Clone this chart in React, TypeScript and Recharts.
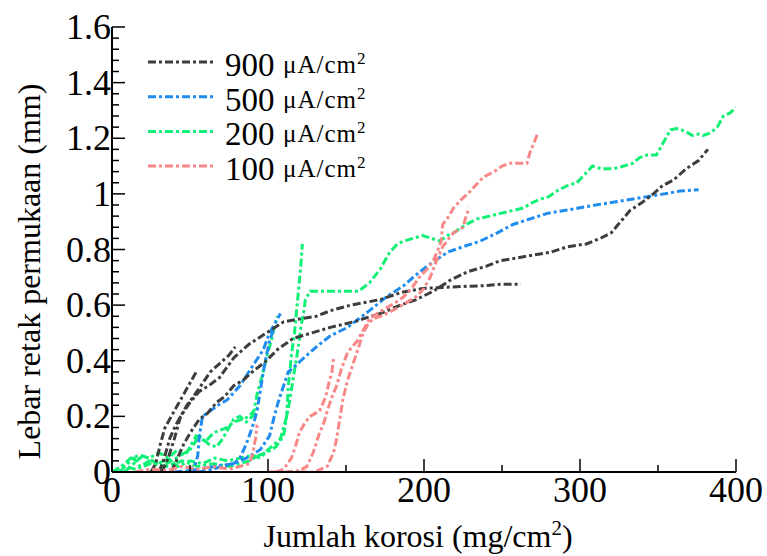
import { LineChart, Line, XAxis, YAxis } from "recharts";

// [x = jumlah korosi (mg/cm2), y = lebar retak (mm)] per specimen
const black1 = [[25, 0], [28, 0.03], [31, 0.1], [34, 0.16], [38, 0.2], [42, 0.24], [46, 0.28], [50, 0.32], [54, 0.36]];
const black2 = [[30, 0], [33, 0.04], [37, 0.12], [41, 0.17], [44, 0.2], [48, 0.24], [52, 0.27], [57, 0.31], [63, 0.36], [69, 0.39], [75, 0.42], [79, 0.45]];
const black3 = [[32, 0], [36, 0.05], [40, 0.12], [44, 0.2], [50, 0.25], [56, 0.29], [62, 0.31], [69, 0.34], [78, 0.41], [88, 0.46], [99, 0.5], [110, 0.54], [120, 0.55], [131, 0.56], [140, 0.58], [153, 0.6], [172, 0.62], [185, 0.645], [199, 0.66], [217, 0.665], [238, 0.67], [250, 0.675], [262, 0.675]];
const black4 = [[38, 0], [42, 0.05], [46, 0.1], [50, 0.14], [56, 0.19], [61, 0.21], [67, 0.25], [72, 0.27], [78, 0.31], [84, 0.33], [90, 0.36], [99, 0.4], [106, 0.44], [116, 0.48], [128, 0.5], [140, 0.52], [155, 0.54], [172, 0.57], [185, 0.6], [195, 0.62], [206, 0.65], [217, 0.69], [228, 0.72], [240, 0.74], [249, 0.76], [260, 0.77], [270, 0.78], [281, 0.79], [292, 0.81], [304, 0.82], [313, 0.84], [320, 0.86], [326, 0.9], [332, 0.94], [340, 0.97], [347, 1.0], [353, 1.03], [360, 1.05], [368, 1.09], [376, 1.12], [382, 1.16]];

const blue1 = [[40, 0], [50, 0.005], [56, 0.01], [66, 0.02], [78, 0.03], [86, 0.05], [95, 0.08], [101, 0.13], [104, 0.2], [107, 0.26], [110, 0.31], [113, 0.36], [121, 0.4], [131, 0.45], [140, 0.49], [151, 0.52], [165, 0.58], [176, 0.63], [187, 0.67], [193, 0.7], [202, 0.74], [215, 0.79], [225, 0.81], [236, 0.83], [247, 0.86], [257, 0.89], [268, 0.91], [279, 0.93], [290, 0.94], [300, 0.95], [310, 0.96], [321, 0.97], [332, 0.98], [343, 0.99], [354, 1.0], [364, 1.01], [376, 1.015]];
const blue2 = [[48, 0], [53, 0.02], [55, 0.06], [56, 0.13], [58, 0.2], [63, 0.22], [68, 0.24], [74, 0.26], [82, 0.31], [90, 0.38], [97, 0.44], [101, 0.5], [105, 0.54], [108, 0.57]];
const blue3 = [[55, 0], [62, 0.005], [70, 0.02], [78, 0.03], [82, 0.05], [86, 0.1], [88, 0.13], [91, 0.18], [93, 0.22], [95, 0.29], [97, 0.36], [99, 0.42], [101, 0.47], [104, 0.52]];

const green1 = [[5, 0], [10, 0.03], [14, 0.05], [18, 0.02], [24, 0.04], [30, 0.03], [36, 0.05], [42, 0.02], [50, 0.04], [58, 0.03], [66, 0.05], [74, 0.04], [82, 0.05], [90, 0.06], [95, 0.05], [100, 0.08], [104, 0.1], [108, 0.12], [110, 0.16], [112, 0.2], [114, 0.26], [116, 0.33], [118, 0.4], [120, 0.47], [121, 0.52], [123, 0.58], [124, 0.62], [127, 0.65], [135, 0.65], [145, 0.65], [158, 0.65], [165, 0.68], [172, 0.73], [178, 0.79], [183, 0.82], [187, 0.83], [193, 0.84], [199, 0.85], [205, 0.84], [210, 0.83], [215, 0.85], [219, 0.86], [227, 0.89], [234, 0.91], [242, 0.92], [249, 0.93], [257, 0.94], [264, 0.95], [270, 0.97], [274, 0.98], [280, 0.99], [285, 1.01], [292, 1.03], [298, 1.04], [303, 1.07], [308, 1.1], [314, 1.09], [321, 1.09], [328, 1.1], [334, 1.11], [338, 1.13], [343, 1.14], [349, 1.14], [353, 1.18], [358, 1.23], [362, 1.235], [365, 1.23], [369, 1.22], [372, 1.21], [376, 1.215], [379, 1.21], [384, 1.22], [388, 1.24], [392, 1.28], [396, 1.29], [400, 1.31]];
const green2 = [[0, 0], [8, 0.02], [15, 0.01], [25, 0.03], [35, 0.02], [45, 0.04], [55, 0.02], [65, 0.03], [75, 0.02], [82, 0.03], [88, 0.04], [94, 0.06], [99, 0.07], [105, 0.09], [110, 0.13], [112, 0.2], [113, 0.31], [114, 0.36], [115, 0.42], [117, 0.5], [118, 0.56], [119, 0.62], [120, 0.68], [121, 0.74], [122, 0.82]];
const green3 = [[0, 0], [6, 0.02], [12, 0.05], [18, 0.06], [24, 0.05], [30, 0.07], [36, 0.05], [42, 0.08], [48, 0.07], [54, 0.13], [60, 0.11], [65, 0.14], [69, 0.15], [74, 0.16], [78, 0.18], [84, 0.19], [88, 0.2], [91, 0.22], [93, 0.28], [96, 0.34], [99, 0.41], [102, 0.47], [104, 0.52], [106, 0.56]];
const green4 = [[8, 0], [14, 0.03], [20, 0.06], [26, 0.04], [32, 0.02], [38, 0.04], [44, 0.06], [50, 0.08], [56, 0.13], [62, 0.1], [67, 0.09], [71, 0.12], [74, 0.15], [78, 0.19], [82, 0.2], [86, 0.18], [90, 0.2], [94, 0.24]];

const red1 = [[105, 0], [110, 0.01], [115, 0.05], [118, 0.1], [120, 0.14], [124, 0.18], [127, 0.2], [130, 0.21], [133, 0.22], [137, 0.27], [139, 0.32], [141, 0.36], [142, 0.41]];
const red2 = [[100, 0], [110, 0], [120, 0.005], [125, 0.02], [129, 0.07], [133, 0.14], [136, 0.18], [138, 0.22], [141, 0.27], [144, 0.31], [147, 0.37], [151, 0.43], [157, 0.47], [161, 0.51], [165, 0.55], [170, 0.57], [176, 0.59], [182, 0.61], [187, 0.63], [192, 0.66], [197, 0.7], [202, 0.73], [206, 0.76], [209, 0.8], [211, 0.83], [212, 0.89], [216, 0.92], [219, 0.95], [224, 0.98], [228, 1.0], [233, 1.03], [238, 1.06], [245, 1.08], [250, 1.1], [255, 1.11], [262, 1.11], [266, 1.11], [268, 1.15], [271, 1.19], [273, 1.22]];
const red3 = [[120, 0], [130, 0], [138, 0.02], [142, 0.07], [144, 0.12], [146, 0.19], [148, 0.26], [151, 0.33], [154, 0.38], [157, 0.43], [161, 0.5], [164, 0.53], [167, 0.55], [172, 0.56], [176, 0.57], [183, 0.59], [189, 0.61], [195, 0.63], [200, 0.66], [204, 0.7], [208, 0.76], [212, 0.81], [216, 0.84], [219, 0.86], [222, 0.87], [225, 0.88], [227, 0.92], [229, 0.95]];
const red4 = [[15, 0], [25, 0.01], [35, 0.005], [45, 0.02], [55, 0.01], [65, 0.02], [75, 0.01], [82, 0.02], [88, 0.03], [90, 0.06], [92, 0.12], [93, 0.17]];

const X_MAJOR = [0, 100, 200, 300, 400];
const Y_MAJOR = [0, 0.2, 0.4, 0.6, 0.8, 1, 1.2, 1.4, 1.6];

const GROUPS = [
  { label: "900", color: "#3d3d3d", specimens: [black1, black2, black3, black4] },
  { label: "500", color: "#1f8cf0", specimens: [blue1, blue2, blue3] },
  { label: "200", color: "#0ff074", specimens: [green1, green2, green3, green4] },
  { label: "100", color: "#f88888", specimens: [red1, red2, red3, red4] },
];
// drawing order (green under, red on top)
const DRAW_ORDER = ["200", "500", "900", "100"];

const FONT = "'Liberation Serif', 'Times New Roman', serif";
const DASH = "8 3 3 3";

const W = 767;
const H = 556;
const MARGIN = { top: 27, right: 31, bottom: 0, left: 0 };
const Y_AXIS_W = 112;
const X_AXIS_H = 84;

// minor ticks between the majors
const xTicks = X_MAJOR.flatMap((v, i) => (i < X_MAJOR.length - 1 ? [v, v + 50] : [v]));
const yTicks = Y_MAJOR.flatMap((v, i) =>
  i < Y_MAJOR.length - 1 ? [0, 1, 2, 3, 4].map((k) => Math.round((v + k * 0.04) * 100) / 100) : [v]
);
const isMajorX = (v: number) => v % 100 === 0;
const isMajorY = (v: number) => Math.round(v * 100) % 20 === 0;

const toPts = (arr: number[][]) => arr.map(([x, y]) => ({ x, y }));

function BottomTick(props: any) {
  const { x, y, payload } = props;
  const major = isMajorX(payload.value);
  return (
    <g>
      <line x1={x} x2={x} y1={y} y2={y - (major ? 13 : 7)} stroke="#000" strokeWidth={1.5} />
      {major && (
        <text x={x} y={y + 30} textAnchor="middle" fontSize={36} fontFamily={FONT} fill="#000">
          {payload.value}
        </text>
      )}
    </g>
  );
}

function TopTick(props: any) {
  const { x, y, payload } = props;
  const major = isMajorX(payload.value);
  return <line x1={x} x2={x} y1={y} y2={y + (major ? 13 : 7)} stroke="#000" strokeWidth={1.5} />;
}

function LeftTick(props: any) {
  const { x, y, payload } = props;
  const major = isMajorY(payload.value);
  return (
    <g>
      <line x1={x} x2={x + (major ? 13 : 7)} y1={y} y2={y} stroke="#000" strokeWidth={1.5} />
      {major && (
        <text x={x - 1} y={y + 12} textAnchor="end" fontSize={36} fontFamily={FONT} fill="#000">
          {String(payload.value)}
        </text>
      )}
    </g>
  );
}

function RightTick(props: any) {
  const { x, y, payload } = props;
  const major = isMajorY(payload.value);
  return <line x1={x} x2={x - (major ? 13 : 7)} y1={y} y2={y} stroke="#000" strokeWidth={1.5} />;
}

// axis titles placed from the chart layout constants
function YTitle() {
  const plotH = H - MARGIN.top - X_AXIS_H;
  const cx = 29;
  const cy = MARGIN.top + plotH / 2 + 22;
  return (
    <text
      transform={`translate(${cx},${cy}) rotate(-90)`}
      textAnchor="middle"
      dominantBaseline="central"
      fontSize={32}
      fontFamily={FONT}
      fill="#000"
    >
      Lebar retak permukaan (mm)
    </text>
  );
}

function XTitle() {
  const plotW = W - MARGIN.right - Y_AXIS_W;
  return (
    <text x={Y_AXIS_W + plotW / 2 - 6} y={H - 9} textAnchor="middle" fontSize={32} fontFamily={FONT} fill="#000">
      Jumlah korosi (mg/cm<tspan dy={-12} fontSize={21}>2</tspan>
      <tspan dy={12}>)</tspan>
    </text>
  );
}

export default function App() {
  const ordered = DRAW_ORDER.map((l) => GROUPS.find((g) => g.label === l)!);
  const axisLine = { stroke: "#000", strokeWidth: 2 };

  return (
    <div style={{ position: "absolute", left: 0, top: 0, width: W, height: H, background: "#fff" }}>
      <LineChart width={W} height={H} margin={MARGIN}>
        <XAxis
          dataKey="x"
          type="number"
          domain={[0, 400]}
          ticks={xTicks}
          interval={0}
          allowDataOverflow
          height={X_AXIS_H}
          axisLine={axisLine}
          tickLine={false}
          tickSize={0}
          tickMargin={0}
          tick={<BottomTick />}
        />
        <XAxis
          xAxisId="top"
          orientation="top"
          type="number"
          domain={[0, 400]}
          ticks={xTicks}
          interval={0}
          height={0}
          axisLine={axisLine}
          tickLine={false}
          tickSize={0}
          tickMargin={0}
          tick={<TopTick />}
        />
        <YAxis
          dataKey="y"
          type="number"
          domain={[0, 1.6]}
          ticks={yTicks}
          interval={0}
          allowDataOverflow
          width={Y_AXIS_W}
          axisLine={axisLine}
          tickLine={false}
          tickSize={0}
          tickMargin={0}
          tick={<LeftTick />}
        />
        <YAxis
          yAxisId="right"
          orientation="right"
          type="number"
          domain={[0, 1.6]}
          ticks={yTicks}
          interval={0}
          width={0}
          axisLine={axisLine}
          tickLine={false}
          tickSize={0}
          tickMargin={0}
          tick={<RightTick />}
        />
        {ordered.flatMap((g) =>
          g.specimens.map((s, i) => (
            <Line
              key={`${g.label}-${i}`}
              data={toPts(s)}
              dataKey="y"
              type="linear"
              stroke={g.color}
              strokeWidth={3}
              strokeDasharray={DASH}
              dot={false}
              activeDot={false}
              isAnimationActive={false}
            />
          ))
        )}
      </LineChart>

      {/* Axis titles and legend */}
      <svg width={W} height={H} style={{ position: "absolute", left: 0, top: 0, pointerEvents: "none" }}>
        <YTitle />
        <XTitle />
        {GROUPS.map((g, i) => {
          const cy = 62 + i * 34.7;
          return (
            <g key={g.label}>
              <line x1={148} x2={215} y1={cy} y2={cy} stroke={g.color} strokeWidth={3} strokeDasharray={DASH} />
              <text x={225} y={cy + 14} fontSize={33} fontFamily={FONT} fill="#000">
                {g.label}
              </text>
              <text x={283} y={cy + 11} fontSize={25} letterSpacing={1} fontFamily={FONT} fill="#000">
                μA/cm<tspan dy={-9} fontSize={17}>2</tspan>
              </text>
            </g>
          );
        })}
      </svg>
    </div>
  );
}
